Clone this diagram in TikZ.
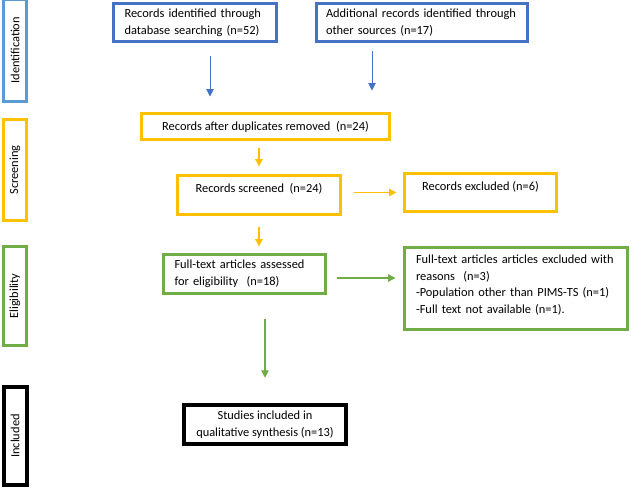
\documentclass[tikz,border=0pt]{standalone}
\usepackage{fontspec}
\setmainfont{Carlito}
\usetikzlibrary{%
  arrows.meta,%
  positioning,%
  calc%
}

\definecolor{idblue}{HTML}{4472C4}
\definecolor{sideblue}{HTML}{5B9BD5}
\definecolor{scryellow}{HTML}{FFC000}
\definecolor{eliggreen}{HTML}{70AD47}

\begin{document}
\begin{tikzpicture}
  [
  x=1pt, y=-1pt,
  font=\fontsize{12.4}{16.7}\selectfont, line width=3pt,
  >={Triangle[length=7.5pt,width=7.5pt]},
  stagenode/.style={rectangle, draw, rotate=90, inner sep=0pt, minimum height=23pt},
  recnode/.style={rectangle, draw, inner sep=0pt, align=center},
  leftnode/.style={rectangle, draw, inner xsep=11pt, inner ysep=0pt, align=left},
  flow/.style={->, line width=1.3pt},
  ]

  \useasboundingbox (0,0) rectangle (631,488);

  % stage labels on the left
  \foreach \name/\lab/\col/\yc/\len/\lw in {ident/Identification/sideblue/50.25/102.5/3,
      screen/Screening/scryellow/170/101/3, elig/Eligibility/eliggreen/296/99/3,
      incl/Included/black/436/98/4} {
    \node[stagenode, draw=\col, line width=\lw pt, minimum width=\len pt] (\name) at (15,\yc) {\lab};
  }

  % identification
  \node[leftnode, draw=idblue, text width=141pt, minimum height=38.4pt] (dbrec) at (195,22.5)
    {Records identified through\\database searching (n=52)};
  \node[leftnode, draw=idblue, inner xsep=9.5pt, text width=192pt, minimum height=38.4pt] (othrec) at (422,22.5)
    {Additional records identified through\\other sources (n=17)};

  % screening
  \node[recnode, draw=scryellow, minimum width=248pt, minimum height=26pt] (dedup) at (265.5,126.5)
    {Records after duplicates removed~~(n=24)};
  \node[recnode, draw=scryellow, minimum width=163pt, text height=17pt, text depth=22pt] (screened) at (259,195)
    {Records screened~~(n=24)};
  \node[recnode, draw=scryellow, minimum width=152pt, text height=17pt, text depth=21pt] (excluded) at (480.5,192.5)
    {Records excluded (n=6)};

  % eligibility
  \node[leftnode, draw=eliggreen, text width=140pt, minimum height=39pt] (fulltext) at (244.5,274)
    {Full-text articles assessed\\for eligibility~~(n=18)};
  \node[leftnode, draw=eliggreen, inner xsep=11.5pt, text width=200pt, text height=16pt, text depth=66pt] (ftexcl) at (516,288.5)
    {Full-text articles articles excluded with\\reasons~~(n=3)\\-Population other than PIMS-TS (n=1)\\-Full text not available (n=1).};

  % included
  \node[recnode, draw=black, line width=4.5pt, minimum width=162pt, minimum height=39pt] (synth) at (265,424.5)
    {Studies included in\\qualitative synthesis (n=13)};

  % connectors
  \coordinate (dbout) at ([xshift=15pt]dbrec.south);
  \coordinate (othout) at ([xshift=-50pt]othrec.south);
  \coordinate (ftout) at ([yshift=-4pt]fulltext.east);

  \draw[flow, idblue, line width=1pt, shorten <=13pt, shorten >=15.5pt] (dbout) -- (dbout |- dedup.north);
  \draw[flow, idblue, line width=1pt, shorten <=8pt, shorten >=21.5pt] (othout) -- (othout |- dedup.north);
  \draw[flow, scryellow, shorten <=6.5pt, shorten >=7.5pt] (screened.north |- dedup.south) -- (screened.north);
  \draw[flow, scryellow, shorten <=11.5pt, shorten >=6.5pt] (screened.east |- excluded.west) -- (excluded.west);
  \draw[flow, scryellow, shorten <=10.5pt, shorten >=6.5pt] (screened.south) -- (screened.south |- fulltext.north);
  \draw[flow, eliggreen, shorten <=9.5pt, shorten >=7.5pt] (ftout) -- (ftout -| ftexcl.west);
  \draw[flow, eliggreen, shorten <=23.5pt, shorten >=25pt] (synth.north |- fulltext.south) -- (synth.north);
\end{tikzpicture}
\end{document}
